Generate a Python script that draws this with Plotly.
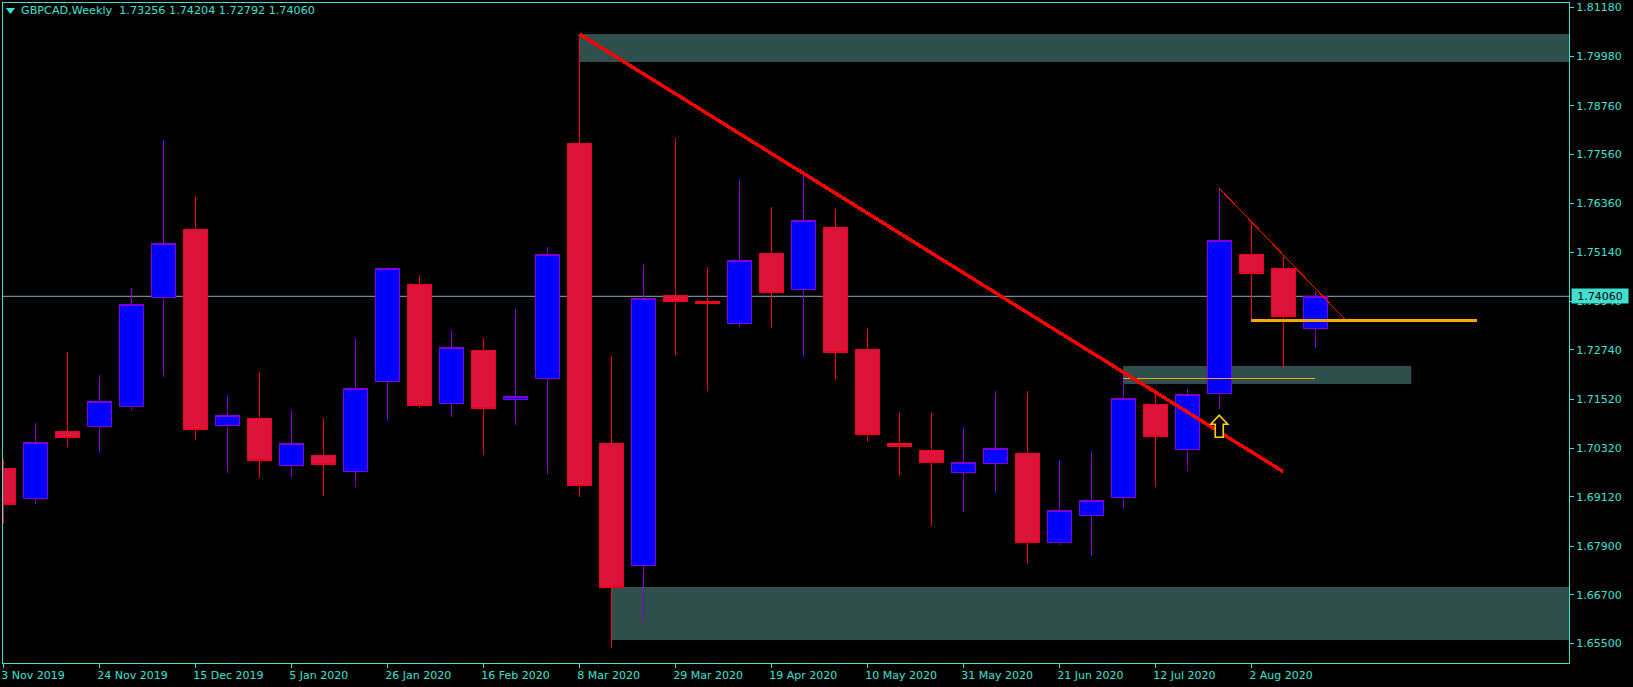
import plotly.graph_objects as go

week_index = list(range(42))
opens = [1.69821,1.69082,1.70734,1.70857,1.71350,1.74037,1.75713,1.70881,1.71054,1.69895,1.70142,1.69747,1.71966,1.74357,
         1.71424,1.72730,1.71512,1.72040,1.77840,1.70438,1.67430,1.74086,1.73945,1.73396,1.75121,1.74234,1.75762,1.72755,
         1.70438,1.70265,1.69723,1.69945,1.70191,1.67997,1.68663,1.69106,1.71399,1.70290,1.71670,1.75096,1.74751,1.73256]
highs = [1.70043,1.70938,1.72688,1.72121,1.74266,1.77914,1.76509,1.71628,1.72195,1.71258,1.71061,1.73033,1.74783,1.74586,
         1.73230,1.73033,1.73748,1.75276,1.80527,1.72590,1.74857,1.77963,1.74783,1.76953,1.76262,1.77051,1.76213,1.73280,
         1.71209,1.71185,1.70839,1.71727,1.71727,1.70026,1.70248,1.72195,1.71776,1.71776,1.76723,1.75900,1.75037,1.74204]
lows = [1.68456,1.68949,1.70354,1.70206,1.71266,1.72079,1.70526,1.69713,1.69590,1.69590,1.69146,1.69368,1.70995,1.71315,
        1.71093,1.70157,1.70896,1.69688,1.69121,1.65399,1.66057,1.72614,1.71734,1.73312,1.73287,1.72572,1.72030,1.70477,
        1.69664,1.68407,1.68752,1.69220,1.67470,1.67938,1.67667,1.68826,1.69368,1.69762,1.71291,1.73470,1.72286,1.72792]
closes = [1.68924,1.70462,1.70576,1.71463,1.73864,1.75368,1.70773,1.71128,1.70009,1.70438,1.69910,1.71793,1.74751,1.71364,
          1.72804,1.71291,1.71596,1.75096,1.69392,1.66878,1.74012,1.73928,1.73879,1.74949,1.74150,1.75935,1.72671,1.70650,
          1.70354,1.69959,1.69969,1.70314,1.67987,1.68786,1.69033,1.71547,1.70600,1.71645,1.75442,1.74618,1.73558,1.74060]

x_tick_index = [0,3,6,9,12,15,18,21,24,27,30,33,36,39]
x_tick_labels = ["3 Nov 2019","24 Nov 2019","15 Dec 2019","5 Jan 2020","26 Jan 2020","16 Feb 2020","8 Mar 2020",
                 "29 Mar 2020","19 Apr 2020","10 May 2020","31 May 2020","21 Jun 2020","12 Jul 2020","2 Aug 2020"]
y_ticks = [1.81180,1.79980,1.78760,1.77560,1.76360,1.75140,1.73940,1.72740,1.71520,1.70320,1.69120,1.67900,1.66700,1.65500]
y_tick_labels = ["%.5f" % v for v in y_ticks]

last_price = 1.74060
header = "GBPCAD,Weekly\u00a0\u00a01.73256 1.74204 1.72792 1.74060"

# Supply / demand zones: start week, end week, upper price, lower price
zone_start = [18, 19, 35]
zone_end = [60, 60, 44]
zone_top = [1.80527, 1.66895, 1.72343]
zone_bottom = [1.79837, 1.65589, 1.71899]

trend_x = [18, 40]
trend_y = [1.80527, 1.69738]
thin_trend_x = [38, 42]
thin_trend_y = [1.76723, 1.73435]
thick_level_x = [39, 46.04]
thick_level_y = [1.73470, 1.73470]
thin_level_x = [35, 41]
thin_level_y = [1.72040, 1.72040]
arrow_week = 38
arrow_tip_price = 1.71128

TURQ = "#40E0D0"
FONT = "DejaVu Sans"

fig = go.Figure()
fig.add_trace(go.Candlestick(
    x=week_index, open=opens, high=highs, low=lows, close=closes,
    increasing=dict(line=dict(color="#7F00D8", width=1), fillcolor="#0000FF"),
    decreasing=dict(line=dict(color="#F0001C", width=1), fillcolor="#DC143C"),
    whiskerwidth=0, showlegend=False, hoverinfo="skip",
))
fig.add_trace(go.Scatter(x=thin_level_x, y=thin_level_y, mode="lines", line=dict(color="#FFA500", width=1),
                         showlegend=False, hoverinfo="skip"))
fig.add_trace(go.Scatter(x=thin_trend_x, y=thin_trend_y, mode="lines", line=dict(color="#FF0000", width=1),
                         showlegend=False, hoverinfo="skip"))
fig.add_trace(go.Scatter(x=trend_x, y=trend_y, mode="lines", line=dict(color="#FF0000", width=3.5),
                         showlegend=False, hoverinfo="skip"))
fig.add_trace(go.Scatter(x=thick_level_x, y=thick_level_y, mode="lines", line=dict(color="#FFA500", width=3),
                         showlegend=False, hoverinfo="skip"))

for x0, x1, top, bottom in zip(zone_start, zone_end, zone_top, zone_bottom):
    fig.add_shape(type="rect", xref="x", yref="y", x0=x0, x1=x1, y0=bottom, y1=top,
                  fillcolor="#2F4F4F", line=dict(width=0), layer="below")
fig.add_shape(type="line", xref="paper", yref="y", x0=0, x1=1, y0=last_price, y1=last_price,
              line=dict(color="#778899", width=1.3), layer="below")
# up-arrow marker, sized in pixels and anchored at its data point
fig.add_shape(type="path", xref="x", yref="y", xsizemode="pixel", ysizemode="pixel",
              xanchor=arrow_week, yanchor=arrow_tip_price,
              path="M0,0 L8.5,-9 L4,-9 L4,-22 L-4,-22 L-4,-9 L-8.5,-9 Z",
              fillcolor="#000000", line=dict(color="#FFD000", width=1.6), layer="above")
# header triangle
fig.add_shape(type="path", xref="paper", yref="paper",
              path="M0.0018,0.9925 L0.0077,0.9925 L0.00475,0.9835 Z",
              fillcolor=TURQ, line=dict(width=0), layer="above")

fig.add_annotation(xref="paper", yref="paper", x=0.0100, y=0.9880, xanchor="left", yanchor="middle",
                   text=header, showarrow=False, font=dict(family=FONT, size=11.2, color=TURQ))
fig.add_annotation(xref="paper", yref="y", x=1.00128, y=last_price, xanchor="left", yanchor="middle",
                   text="%.5f" % last_price, showarrow=False, width=56, height=14, bgcolor=TURQ, borderpad=0,
                   font=dict(family=FONT, size=11, color="#000000"))

fig.update_layout(
    width=1633, height=687,
    margin=dict(l=3, r=64, t=3, b=24, pad=0, autoexpand=False),
    paper_bgcolor="#000000", plot_bgcolor="#000000",
    boxgap=0.25, boxgroupgap=0, showlegend=False,
    font=dict(family=FONT, size=11, color=TURQ),
    xaxis=dict(range=[-0.009, 48.93], type="linear", rangeslider=dict(visible=False), tickmode="array",
               tickvals=x_tick_index, ticktext=x_tick_labels, ticks="outside", ticklen=4, tickwidth=1,
               tickcolor=TURQ, showgrid=False, zeroline=False, showline=True, linecolor=TURQ, linewidth=1,
               mirror=True, ticklabelposition="outside right", ticklabelshift=-3, ticklabelstandoff=2,
               tickfont=dict(family=FONT, size=11, color=TURQ), tickangle=0, fixedrange=True, automargin=False),
    yaxis=dict(range=[1.65022, 1.81291], side="right", tickmode="array", tickvals=y_ticks, ticktext=y_tick_labels,
               ticks="outside", ticklen=4, tickwidth=1, tickcolor=TURQ, showgrid=False, zeroline=False,
               showline=True, linecolor=TURQ, linewidth=1, mirror=True,
               tickfont=dict(family=FONT, size=11, color=TURQ), fixedrange=True, automargin=False),
)

fig.write_html("out.html", config={"displayModeBar": False},
               post_script="document.body.style.margin='0';document.body.style.overflow='hidden';"
                           "document.querySelectorAll('.boxlayer path,.scatterlayer .js-line')"
                           ".forEach(function(p){p.style.shapeRendering='crispEdges';});")
